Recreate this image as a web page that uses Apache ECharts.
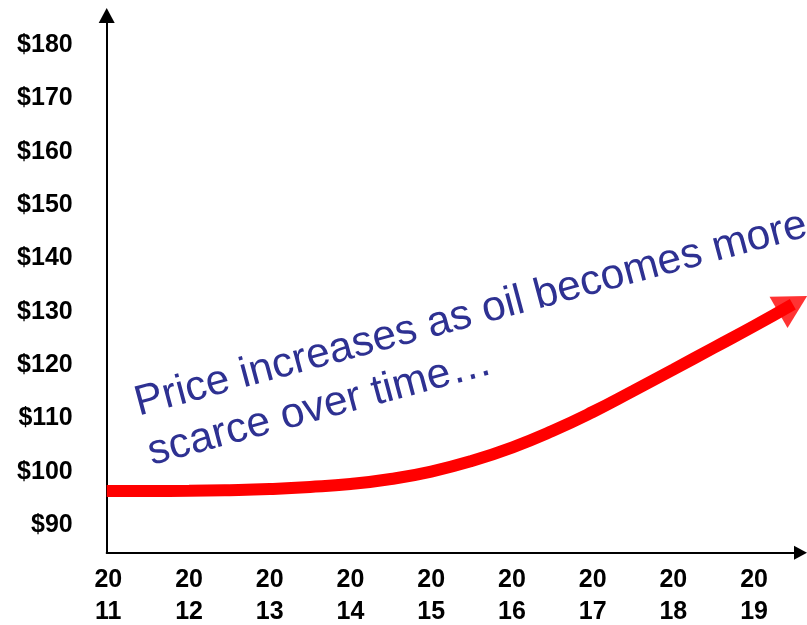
<!DOCTYPE html>
<html>
<head>
<meta charset="utf-8">
<script src="https://cdn.jsdelivr.net/npm/echarts@6/dist/echarts.min.js"></script>
<style>html,body{margin:0;padding:0;background:#fff;}#c{width:807px;height:625px;}</style>
</head>
<body>
<div id="c"></div>
<script>
// Data
const yearTicks = [2011, 2012, 2013, 2014, 2015, 2016, 2017, 2018, 2019];
const priceTicks = [90, 100, 110, 120, 130, 140, 150, 160, 170, 180];
const curveYears = [2010.98, 2011.5, 2012, 2012.5, 2013, 2013.5, 2014, 2014.5, 2015, 2015.5,
                    2016, 2016.5, 2017, 2017.5, 2018, 2018.5, 2019, 2019.48];
const curvePrices = [96.36, 96.38, 96.41, 96.53, 96.75, 97.13, 97.69, 98.63, 100.03, 102.0,
                     104.53, 107.63, 111.19, 115.13, 119.16, 123.23, 127.31, 131.4];
const arrowYear = [2019.48];
const arrowPrice = [131.4];
const noteLines = ['Price increases as oil becomes more', 'scarce over time\u2026'];

const FONT = "'Liberation Sans', Arial, sans-serif";
const chart = echarts.init(document.getElementById('c'), null, {renderer: 'canvas'});

const curveData = curveYears.map((y, i) => [y, curvePrices[i]]);
const arrowData = arrowYear.map((y, i) => [y, arrowPrice[i]]);

chart.setOption({
  backgroundColor: '#ffffff',
  animation: false,
  grid: {left: 106.7, right: 6.5, top: 15.5, bottom: 72.3, containLabel: false, outerBoundsMode: 'none'},
  xAxis: {
    type: 'value',
    min: 2010.98,
    max: 2019.575,
    splitLine: {show: false},
    axisTick: {show: false},
    axisLine: {show: true, onZero: false, lineStyle: {color: '#000', width: 2},
      symbol: ['none', 'triangle'], symbolSize: [14, 13]},
    axisLabel: {
      customValues: yearTicks,
      margin: 11,
      color: '#000',
      fontFamily: FONT,
      fontWeight: 'bold',
      fontSize: 25,
      lineHeight: 32,
      formatter: v => { const s = String(Math.round(v)); return s.slice(0, 2) + '\n' + s.slice(2); }
    }
  },
  yAxis: {
    type: 'value',
    min: 84.81,
    max: 185.53,
    splitLine: {show: false},
    axisTick: {show: false},
    axisLine: {show: true, onZero: false, lineStyle: {color: '#000', width: 2},
      symbol: ['none', 'triangle'], symbolSize: [16, 15]},
    axisLabel: {
      customValues: priceTicks,
      margin: 34,
      color: '#000',
      fontFamily: FONT,
      fontWeight: 'bold',
      fontSize: 25,
      formatter: v => '$' + Math.round(v)
    }
  },
  series: [
    {
      type: 'line',
      data: curveData,
      smooth: 0.5,
      showSymbol: false,
      clip: false,
      lineStyle: {color: '#ff0000', width: 12, cap: 'butt'}
    },
    {
      type: 'scatter',
      data: arrowData,
      symbol: 'triangle',
      symbolSize: [36, 33],
      symbolRotate: -60,
      clip: false,
      itemStyle: {color: '#ff0000'}
    }
  ],
  graphic: [
    {
      type: 'text',
      x: 129,
      y: 379.7,
      rotation: 15 * Math.PI / 180,
      style: {
        text: noteLines.join('\n'),
        fill: '#2e3192',
        font: '42.5px ' + FONT,
        lineHeight: 51,
        align: 'left',
        verticalAlign: 'top'
      }
    }
  ]
});
</script>
</body>
</html>
